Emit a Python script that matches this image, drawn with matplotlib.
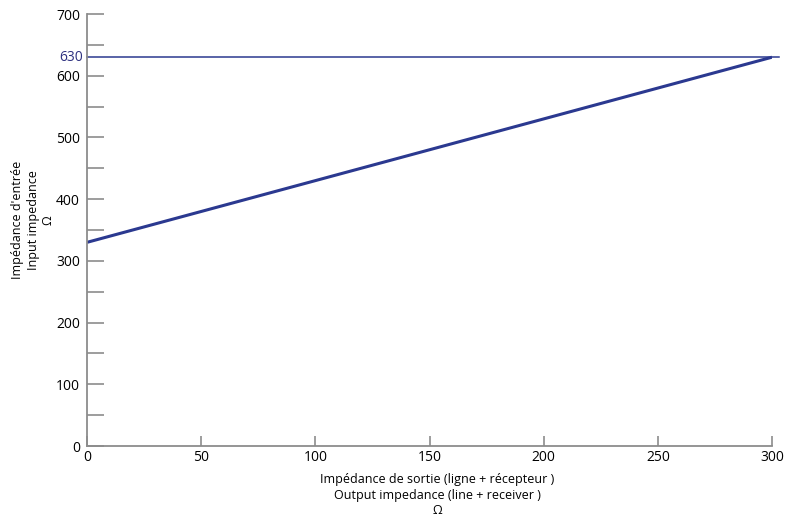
import matplotlib.pyplot as plt
from matplotlib.ticker import MultipleLocator

# Data
x_vals = [0, 300]
z_in = [330, 630]
z_max = 630
x_ticks = [0, 50, 100, 150, 200, 250, 300]
y_ticks = [0, 100, 200, 300, 400, 500, 600, 700]

plt.rcParams['font.family'] = ['Open Sans', 'DejaVu Sans']

fig = plt.figure(figsize=(7.87, 5.22), dpi=100)
ax = fig.add_axes([87 / 787, 1 - 446 / 522, 685 / 787, 432 / 522])

grey = '#8c8c8c'
blue = '#2b3990'

ax.plot(x_vals, z_in, color=blue, linewidth=2.2, solid_capstyle='butt')
ax.plot([0, 303], [z_max, z_max], color=blue, linewidth=1.1, clip_on=False)

ax.set_xlim(0, 300)
ax.set_ylim(0, 700)
ax.set_xticks(x_ticks)
ax.set_yticks(y_ticks)
ax.yaxis.set_minor_locator(MultipleLocator(50))

for s in ['top', 'right']:
    ax.spines[s].set_visible(False)
for s in ['left', 'bottom']:
    ax.spines[s].set_color(grey)
    ax.spines[s].set_linewidth(1.3)

ax.tick_params(axis='y', which='both', direction='in', length=12, width=1.2,
               color=grey, labelsize=10, pad=5)
ax.tick_params(axis='x', direction='in', length=7, width=1.2, color=grey,
               labelsize=10, pad=3)

ax.text(-0.006, z_max, str(z_max), color='#2e3180', fontsize=10,
        ha='right', va='center', transform=ax.get_yaxis_transform(), clip_on=False)

fig.text(33 / 787, 1 - 220 / 522, "Impédance d'entrée\nInput impedance\nΩ",
         rotation=90, ha='center', va='center', multialignment='center', fontsize=9)
fig.text(437 / 787, 1 - 495 / 522,
         "Impédance de sortie (ligne + récepteur )\nOutput impedance (line + receiver )\nΩ",
         ha='center', va='center', multialignment='center', fontsize=9)

fig.savefig('out.png', dpi=100)
